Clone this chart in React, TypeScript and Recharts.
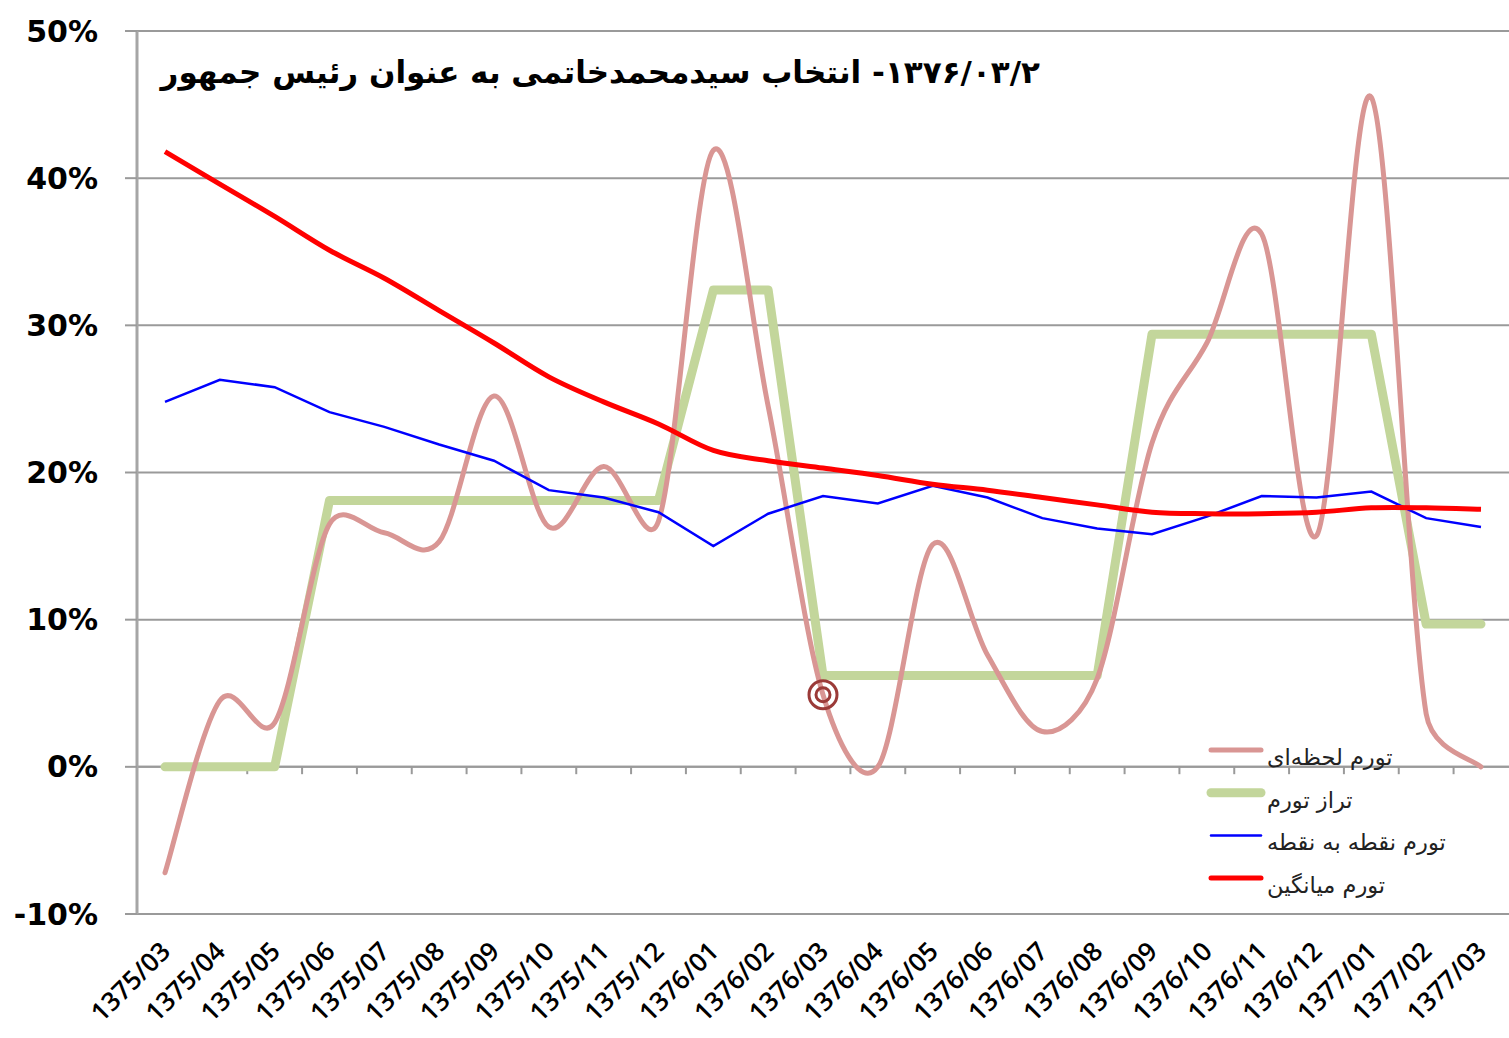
import React from "react";
import { LineChart, Line, XAxis, YAxis, CartesianGrid, ReferenceLine, Legend } from "recharts";

const months = [
  "1375/03", "1375/04", "1375/05", "1375/06", "1375/07", "1375/08", "1375/09", "1375/10",
  "1375/11", "1375/12", "1376/01", "1376/02", "1376/03", "1376/04", "1376/05", "1376/06",
  "1376/07", "1376/08", "1376/09", "1376/10", "1376/11", "1376/12", "1377/01", "1377/02", "1377/03",
];

// تورم لحظه‌ای
const momentary = [
  -7.2, 4.5, 3.0, 16.5, 15.9, 15.3, 25.2, 16.3, 20.4, 16.7, 41.9, 24.5, 4.9,
  0.0, 15.1, 7.6, 2.4, 6.0, 22.0, 28.8, 36.2, 15.7, 45.5, 3.6, 0.0,
];
// تراز تورم
const level = [
  0, 0, 0, 18.1, 18.1, 18.1, 18.1, 18.1, 18.1, 18.1, 32.4, 32.4, 6.2,
  6.2, 6.2, 6.2, 6.2, 6.2, 29.4, 29.4, 29.4, 29.4, 29.4, 9.7, 9.7,
];
// تورم نقطه به نقطه
const pointToPoint = [
  24.8, 26.3, 25.8, 24.1, 23.1, 21.9, 20.8, 18.8, 18.3, 17.3, 15.0, 17.2, 18.4,
  17.9, 19.1, 18.3, 16.9, 16.2, 15.8, 17.0, 18.4, 18.3, 18.7, 16.9, 16.3,
];
// تورم میانگین
const average = [
  41.8, 39.6, 37.4, 35.1, 33.2, 31.0, 28.8, 26.5, 24.8, 23.3, 21.5, 20.8, 20.3,
  19.8, 19.2, 18.8, 18.3, 17.8, 17.3, 17.2, 17.2, 17.3, 17.6, 17.6, 17.5,
];

const yTicks = [-10, 0, 10, 20, 30, 40, 50];
const titleText = "۱۳۷۶/۰۳/۲- انتخاب سیدمحمدخاتمی به عنوان رئیس جمهور";
const markerMonth = "1376/03";

const seriesInfo = [
  { key: "momentary", name: "تورم لحظه\u200cای", color: "#d99694", width: 5 },
  { key: "level", name: "تراز تورم", color: "#c3d69b", width: 9 },
  { key: "p2p", name: "تورم نقطه به نقطه", color: "#0000ff", width: 2.5 },
  { key: "avg", name: "تورم میانگین", color: "#ff0000", width: 5 },
];

const data = months.map((m, i) => ({
  month: m,
  idx: i,
  momentary: momentary[i],
  level: level[i],
  p2p: pointToPoint[i],
  avg: average[i],
}));

const boundaries = months.slice(1).map((_, i) => i + 0.5);

// Excel-like smoothed line (Catmull-Rom style Bezier, 1/6 tension, control arms limited to half a segment)
const excelSmooth = (context: any) => {
  let pts: number[][] = [];
  const arm = (dx: number, dy: number, seg: number) => {
    const len = Math.hypot(dx, dy);
    const maxLen = seg * 0.5;
    if (len > maxLen && len > 0) {
      const k = maxLen / len;
      return [dx * k, dy * k];
    }
    return [dx, dy];
  };
  return {
    areaStart() {},
    areaEnd() {},
    lineStart() {
      pts = [];
    },
    lineEnd() {
      const n = pts.length;
      if (!n) return;
      context.moveTo(pts[0][0], pts[0][1]);
      for (let i = 0; i < n - 1; i++) {
        const p0 = pts[i - 1] || pts[i];
        const p1 = pts[i];
        const p2 = pts[i + 1];
        const p3 = pts[i + 2] || p2;
        const seg = Math.hypot(p2[0] - p1[0], p2[1] - p1[1]);
        const a1 = arm((p2[0] - p0[0]) / 6, (p2[1] - p0[1]) / 6, seg);
        const a2 = arm((p3[0] - p1[0]) / 6, (p3[1] - p1[1]) / 6, seg);
        context.bezierCurveTo(p1[0] + a1[0], p1[1] + a1[1], p2[0] - a2[0], p2[1] - a2[1], p2[0], p2[1]);
      }
    },
    point(x: number, y: number) {
      pts.push([+x, +y]);
    },
  };
};

const XTick = (props: any) => {
  const { x, payload } = props;
  const ax = x + 7;
  const ay = 953;
  return (
    <text
      x={ax}
      y={ay}
      transform={`rotate(-45, ${ax}, ${ay})`}
      textAnchor="end"
      fontFamily="Open Sans"
      fontWeight={600}
      fontSize={26}
      fill="#000"
    >
      {payload.value}
    </text>
  );
};

const MarkerDot = (props: any) => {
  const { cx, cy, payload, index } = props;
  if (payload && payload.month === markerMonth) {
    return (
      <g key={`mk-${index}`}>
        <circle cx={cx} cy={cy} r={14} fill="none" stroke="#9b3a38" strokeWidth={3} />
        <circle cx={cx} cy={cy} r={7} fill="none" stroke="#9b3a38" strokeWidth={3} />
      </g>
    );
  }
  return <g key={`mk-${index}`} />;
};

const LegendContent = () => (
  <svg width={300} height={170}>
    {seriesInfo.map((s, i) => {
      const ly = 15 + i * 42.7;
      return (
        <g key={s.key}>
          <line x1={8} y1={ly} x2={58} y2={ly} stroke={s.color} strokeWidth={s.width} strokeLinecap="round" />
          <text x={64} y={ly + 7} dominantBaseline="central" fontFamily="DejaVu Sans" fontSize={22.5} fill="#222">
            {s.name}
          </text>
        </g>
      );
    })}
  </svg>
);

export default function App() {
  return (
    <div style={{ position: "absolute", left: 0, top: 0, width: 1509, height: 1038, background: "#fff" }}>
      <LineChart width={1509} height={1038} data={data} margin={{ top: 31, right: 0, bottom: 0, left: 0 }}>
        <CartesianGrid vertical={false} stroke="#9a9a9a" strokeWidth={2} />
        <XAxis
          dataKey="month"
          interval={0}
          axisLine={false}
          tickLine={false}
          height={124}
          padding={{ left: 28, right: 28 }}
          tick={<XTick />}
        />
        <XAxis xAxisId="n" type="number" dataKey="idx" domain={[0, months.length - 1]} hide padding={{ left: 28, right: 28 }} />
        <YAxis
          width={137}
          domain={[-10, 50]}
          ticks={yTicks}
          interval={0}
          tickFormatter={(v: number) => `${v}%`}
          axisLine={{ stroke: "#a6a6a6", strokeWidth: 3 }}
          tickLine={{ stroke: "#9a9a9a", strokeWidth: 2 }}
          tickSize={12}
          tickMargin={27}
          tick={{ fontFamily: "DejaVu Sans", fontWeight: 700, fontSize: 30, fill: "#000" }}
        />
        <ReferenceLine y={0} stroke="#9a9a9a" strokeWidth={2} />
        {boundaries.map((b) => (
          <ReferenceLine
            key={b}
            xAxisId="n"
            segment={[{ x: b, y: 0 }, { x: b, y: -0.5 }]}
            stroke="#9a9a9a"
            strokeWidth={2}
          />
        ))}
        <Legend layout="vertical" align="center" verticalAlign="middle" content={<LegendContent />} wrapperStyle={{ left: 1203, top: 735, width: 300, height: 170 }} />
        <Line dataKey="level" name={seriesInfo[1].name} type="linear" stroke="#c3d69b" strokeWidth={9} strokeLinecap="round" strokeLinejoin="round" dot={false} activeDot={false} isAnimationActive={false} />
        <Line dataKey="momentary" name={seriesInfo[0].name} type={excelSmooth as any} stroke="#d99694" strokeWidth={5} strokeLinecap="round" dot={<MarkerDot />} activeDot={false} isAnimationActive={false} />
        <Line dataKey="p2p" name={seriesInfo[2].name} type="linear" stroke="#0000ff" strokeWidth={2.5} dot={false} activeDot={false} isAnimationActive={false} />
        <Line dataKey="avg" name={seriesInfo[3].name} type={excelSmooth as any} stroke="#ff0000" strokeWidth={5} dot={false} activeDot={false} isAnimationActive={false} />
      </LineChart>
      <svg style={{ position: "absolute", left: 0, top: 0, pointerEvents: "none" }} width={1509} height={120}>
        <text x={1040} y={83} direction="rtl" textAnchor="start" fontFamily="DejaVu Sans" fontWeight={700} fontSize={31} fill="#000">
          {titleText}
        </text>
      </svg>
    </div>
  );
}
